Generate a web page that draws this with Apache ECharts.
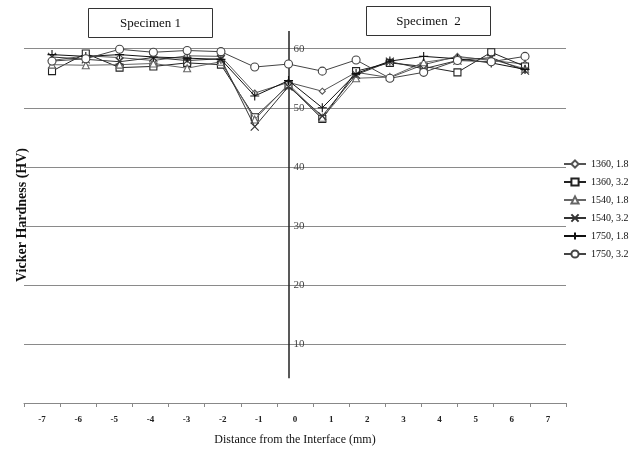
<!DOCTYPE html>
<html><head><meta charset="utf-8">
<script src="https://cdn.jsdelivr.net/npm/echarts@6/dist/echarts.min.js"></script>
<style>html,body{margin:0;padding:0;background:#fff}#c{width:639px;height:451px}</style>
</head><body><div id="c"></div>
<script>
var distances = [-7,-6,-5,-4,-3,-2,-1,0,1,2,3,4,5,6,7];
var tickLabels = ['-7','-6','-5','-4','-3','-2','-1','0','1','2','3','4','5','6','7'];
var seriesNames = ['1360, 1.8','1360, 3.2','1540, 1.8','1540, 3.2','1750, 1.8','1750, 3.2'];
var hv_1360_18 = [58.0, 58.8, 58.5, 58.0, 58.8, 58.7, 52.5, 54.3, 52.8, 56.0, 55.1, 57.3, 58.7, 58.0, 57.4];
var hv_1360_32 = [56.2, 59.2, 56.8, 57.0, 57.6, 57.3, 48.4, 53.8, 48.1, 56.2, 57.6, 57.0, 56.0, 59.4, 57.0];
var hv_1540_18 = [57.3, 57.2, 57.3, 57.5, 56.7, 57.8, 48.0, 54.0, 48.3, 55.0, 55.2, 57.7, 58.5, 58.2, 56.6];
var hv_1540_32 = [58.6, 58.2, 57.8, 58.5, 58.0, 58.3, 46.8, 53.6, 48.6, 55.6, 57.8, 56.6, 58.0, 58.5, 56.3];
var hv_1750_18 = [59.0, 58.7, 59.0, 58.6, 58.4, 58.2, 52.0, 54.6, 50.0, 55.8, 57.9, 58.7, 58.3, 57.6, 56.5];
var hv_1750_32 = [57.9, 58.3, 59.9, 59.4, 59.7, 59.5, 56.9, 57.4, 56.2, 58.1, 55.0, 56.0, 58.0, 57.8, 58.7];
var yTicks = [10,20,30,40,50,60];

var allValues = [hv_1360_18, hv_1360_32, hv_1540_18, hv_1540_32, hv_1750_18, hv_1750_32];
var symbols = ['diamond','rect','triangle','path://M0,0L10,10M0,10L10,0','path://M5,0L5,10M0,5L10,5','circle'];
var sizes = [6,7,7,8,9,8];
var colors = ['#555','#222','#666','#333','#111','#444'];
var FONT = '"Liberation Serif", "DejaVu Serif", serif';

var series = allValues.map(function(vals, i){
  return {
    name: seriesNames[i], type: 'line', xAxisIndex: 0, yAxisIndex: 0,
    data: vals.map(function(v, j){ return [distances[j], v]; }),
    symbol: symbols[i], symbolSize: sizes[i], showAllSymbol: true,
    lineStyle: {color: colors[i], width: 1},
    itemStyle: {color: '#fff', borderColor: colors[i], borderWidth: 1.1},
    emphasis: {disabled: true}, animation: false, z: 3 + i
  };
});
series[0].markLine = {
  silent: true, symbol: 'none', label: {show: false},
  lineStyle: {color: '#222', width: 1.5, type: 'solid'},
  data: [[{coord: [0, 4.2]}, {coord: [0, 63]}]]
};

var chart = echarts.init(document.getElementById('c'), null, {renderer: 'canvas'});
chart.setOption({
  animation: false,
  backgroundColor: '#fff',
  grid: {left: 24, right: 73, top: 31, bottom: 46, containLabel: false},
  xAxis: [
    {type: 'value', min: -7.829, max: 8.213, show: false},
    {type: 'category', data: tickLabels, position: 'bottom', boundaryGap: true,
     axisLine: {show: true, onZero: false, lineStyle: {color: '#888', width: 1}},
     axisTick: {show: true, length: 4, alignWithLabel: false, lineStyle: {color: '#888'}},
     axisLabel: {color: '#222', fontFamily: FONT, fontSize: 9, fontWeight: 'bold', margin: 12},
     splitLine: {show: false},
     name: 'Distance from the Interface (mm)', nameLocation: 'middle', nameGap: 31,
     nameTextStyle: {color: '#111', fontFamily: FONT, fontSize: 12}}
  ],
  yAxis: [{
    type: 'value', min: 0, max: 63, interval: 10, position: 'left', offset: -264.5,
    axisLine: {show: false, onZero: false},
    axisTick: {show: false},
    axisLabel: {inside: true, margin: 5, color: '#444', fontFamily: FONT, fontSize: 11, verticalAlign: 'middle',
      padding: [0, 0, 4, 0],
      formatter: function(v){ return yTicks.indexOf(v) >= 0 ? String(v) : ''; }},
    splitLine: {show: true, showMaxLine: false, lineStyle: {color: '#8a8a8a', width: 1}}
  }],
  legend: {
    orient: 'vertical', left: 558, top: 154, itemWidth: 22, itemHeight: 9, itemGap: 8,
    textStyle: {fontFamily: FONT, fontSize: 10, color: '#111'},
    data: seriesNames
  },
  graphic: [
    {type: 'text', left: 15, top: 148, rotation: Math.PI/2,
     style: {text: 'Vicker Hardness (HV)', fontFamily: FONT, fontSize: 14, fontWeight: 'bold', fill: '#111'}},
    {type: 'group', left: 88, top: 8, children: [
      {type: 'rect', shape: {x: 0, y: 0, width: 124, height: 29}, style: {fill: '#fff', stroke: '#333', lineWidth: 1}},
      {type: 'text', x: 62, y: 15, style: {text: 'Specimen 1', fontFamily: FONT, fontSize: 13, fill: '#111', align: 'center', verticalAlign: 'middle'}}
    ]},
    {type: 'group', left: 366, top: 6, children: [
      {type: 'rect', shape: {x: 0, y: 0, width: 124, height: 29}, style: {fill: '#fff', stroke: '#333', lineWidth: 1}},
      {type: 'text', x: 62, y: 15, style: {text: 'Specimen  2', fontFamily: FONT, fontSize: 13, fill: '#111', align: 'center', verticalAlign: 'middle'}}
    ]}
  ],
  series: series
});
</script></body></html>
